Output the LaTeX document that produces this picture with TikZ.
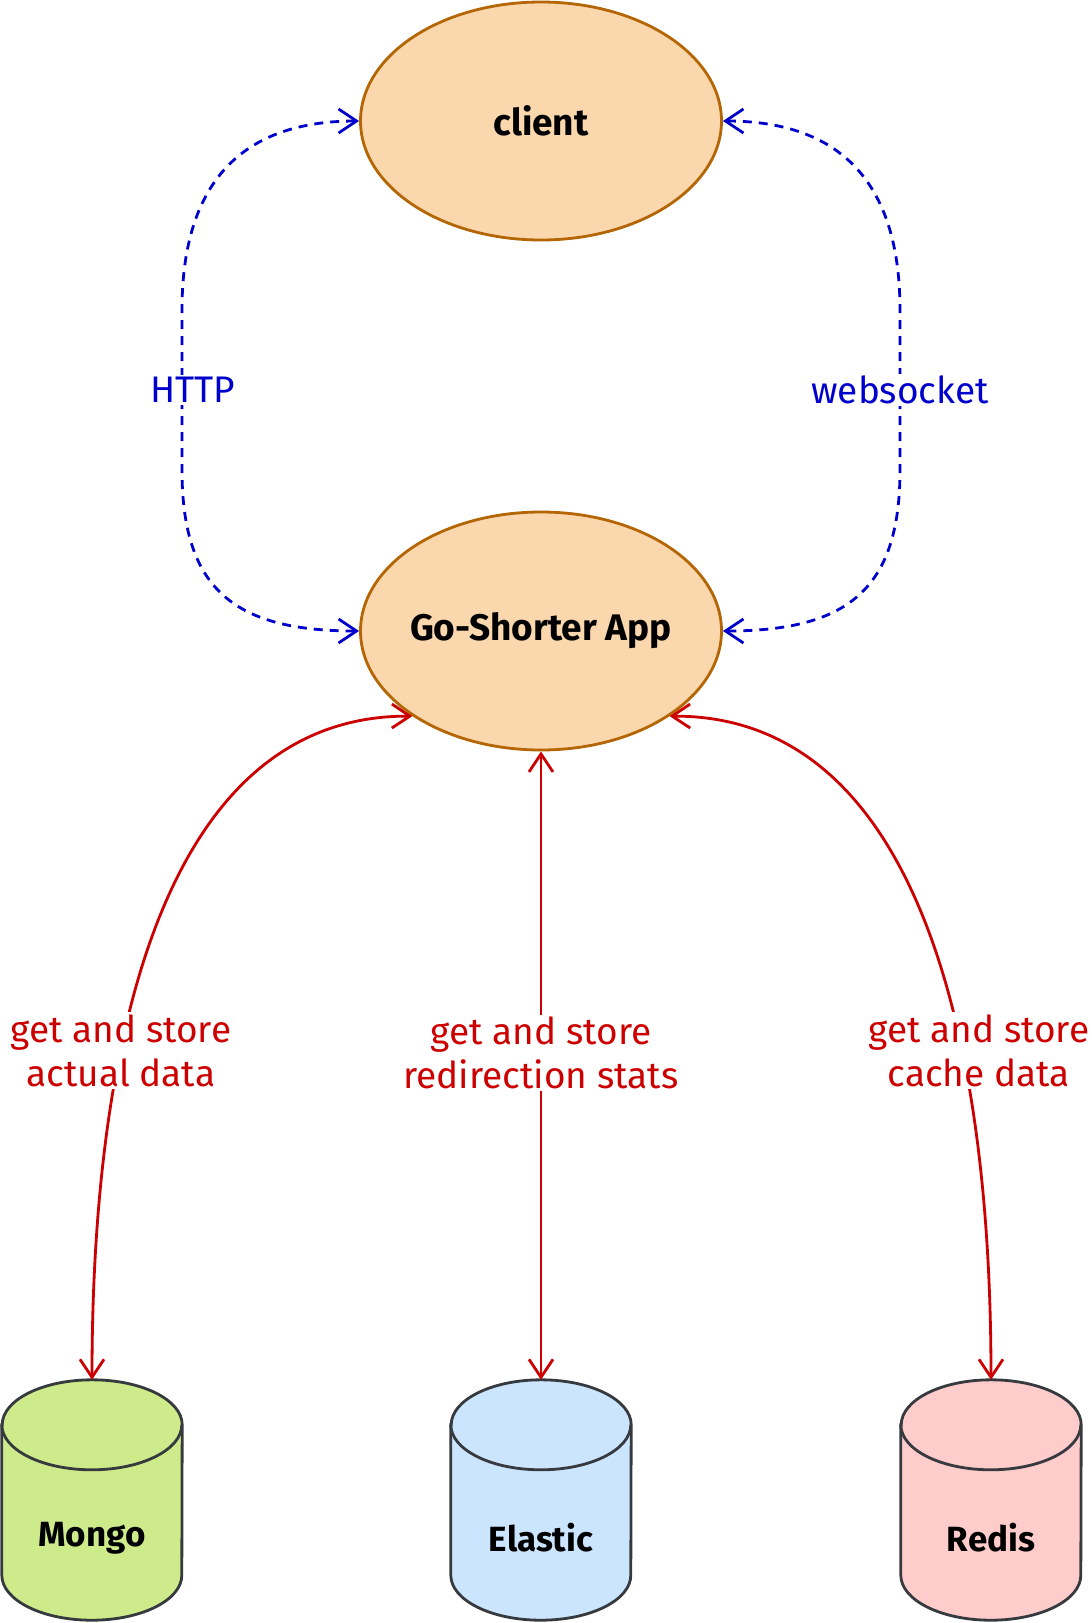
\documentclass[tikz,border=0pt]{standalone}
\usepackage{fontspec}
\setmainfont{Fira Sans}
\usetikzlibrary{arrows.meta,shapes.geometric,calc}
\pgfdeclarelayer{background}
\pgfsetlayers{background,main}
\definecolor{appfill}{HTML}{FAD7AC}
\definecolor{appdraw}{HTML}{B46504}
\definecolor{cyldraw}{HTML}{36393D}
\definecolor{mongofill}{HTML}{CDEB8B}
\definecolor{elasticfill}{HTML}{CCE5FF}
\definecolor{redisfill}{HTML}{FFCCCC}
\definecolor{edgeblue}{HTML}{0000CC}
\definecolor{edgered}{HTML}{CC0000}
\tikzset{
  ellnode/.style={ellipse, draw=appdraw, fill=appfill, line width=2.8pt, minimum width=361pt, minimum height=238pt, inner xsep=-60pt, inner ysep=0pt, font=\fontsize{37}{44}\selectfont\bfseries},
  dbbox/.style={rectangle, minimum width=180pt, minimum height=240pt, inner sep=0pt},
  dbtext/.style={font=\fontsize{35}{40}\selectfont\bfseries},
  cyl/.style={draw=cyldraw, line width=2.8pt},
  tipb/.tip={Straight Barb[length=18pt,width=24pt,line width=2.8pt]},
  blueedge/.style={draw=edgeblue, line width=2.8pt, dash pattern=on 9pt off 7pt, tipb-tipb},
  rededge/.style={draw=edgered, line width=2.8pt, tipb-tipb},
  bluelbl/.style={fill=white, text=edgeblue, inner sep=2pt, font=\fontsize{37}{44}\selectfont},
  redlbl/.style={fill=white, text=edgered, inner sep=2pt, align=center, font=\fontsize{37}{44}\selectfont},
}
\newcommand{\drawcyl}[2]{%
  \draw[cyl, fill=#2] ([yshift=-45pt]#1.north west) -- ([yshift=45pt]#1.south west)
    arc[start angle=180, end angle=360, x radius=90pt, y radius=45pt]
    -- ([yshift=-45pt]#1.north east)
    arc[start angle=0, end angle=180, x radius=90pt, y radius=45pt] -- cycle;
  \draw[cyl] ([yshift=-45pt]#1.north west)
    arc[start angle=180, end angle=360, x radius=90pt, y radius=45pt];
}
\begin{document}
\begin{tikzpicture}[x=1pt,y=1pt]
\begin{pgfonlayer}{background}
\fill[white] (0,0) rectangle (1092,-1623);
\end{pgfonlayer}
\useasboundingbox (0,0) rectangle (1092,-1623);

\node[ellnode] (client) at (541,-121) {client};
\node[ellnode] (app) at (541,-631) {Go-Shorter App};

\node[dbbox, label={[dbtext, yshift=-38pt]center:Mongo}] (mongo) at (92,-1500) {};
\node[dbbox, label={[dbtext, yshift=-38pt]center:Elastic}] (elastic) at (541,-1500) {};
\node[dbbox, label={[dbtext, yshift=-38pt]center:Redis}] (redis) at (991,-1500) {};

\begin{pgfonlayer}{background}
\drawcyl{mongo}{mongofill}
\drawcyl{elastic}{elasticfill}
\drawcyl{redis}{redisfill}
\end{pgfonlayer}

% blue edges
\draw[blueedge] (client.west) .. controls (235,-121) and (182,-190) .. (182,-310)
  -- node[bluelbl, xshift=11pt] (httplbl) {HTTP} (182,-470)
  .. controls (182,-590) and (235,-631) .. (app.west);
\draw[blueedge] (client.east) .. controls (847,-121) and (900,-190) .. (900,-310)
  -- node[bluelbl] (wslbl) {websocket} (900,-470)
  .. controls (900,-590) and (847,-631) .. (app.east);

% red edges
\draw[rededge] (mongo.north) .. controls (92,-1000) and (180,-715) .. (app.south west)
  node[redlbl, pos=0.32] (mlbl) {get and store\\actual data};
\draw[rededge] (elastic.north) -- node[redlbl, pos=0.52] (elbl) {get and store\\redirection stats} (app.south);
\draw[rededge] (redis.north) .. controls (991,-1000) and (902,-715) .. (app.south east)
  node[redlbl, pos=0.32, xshift=17pt] (rlbl) {get and store\\cache data};
\end{tikzpicture}
\end{document}
